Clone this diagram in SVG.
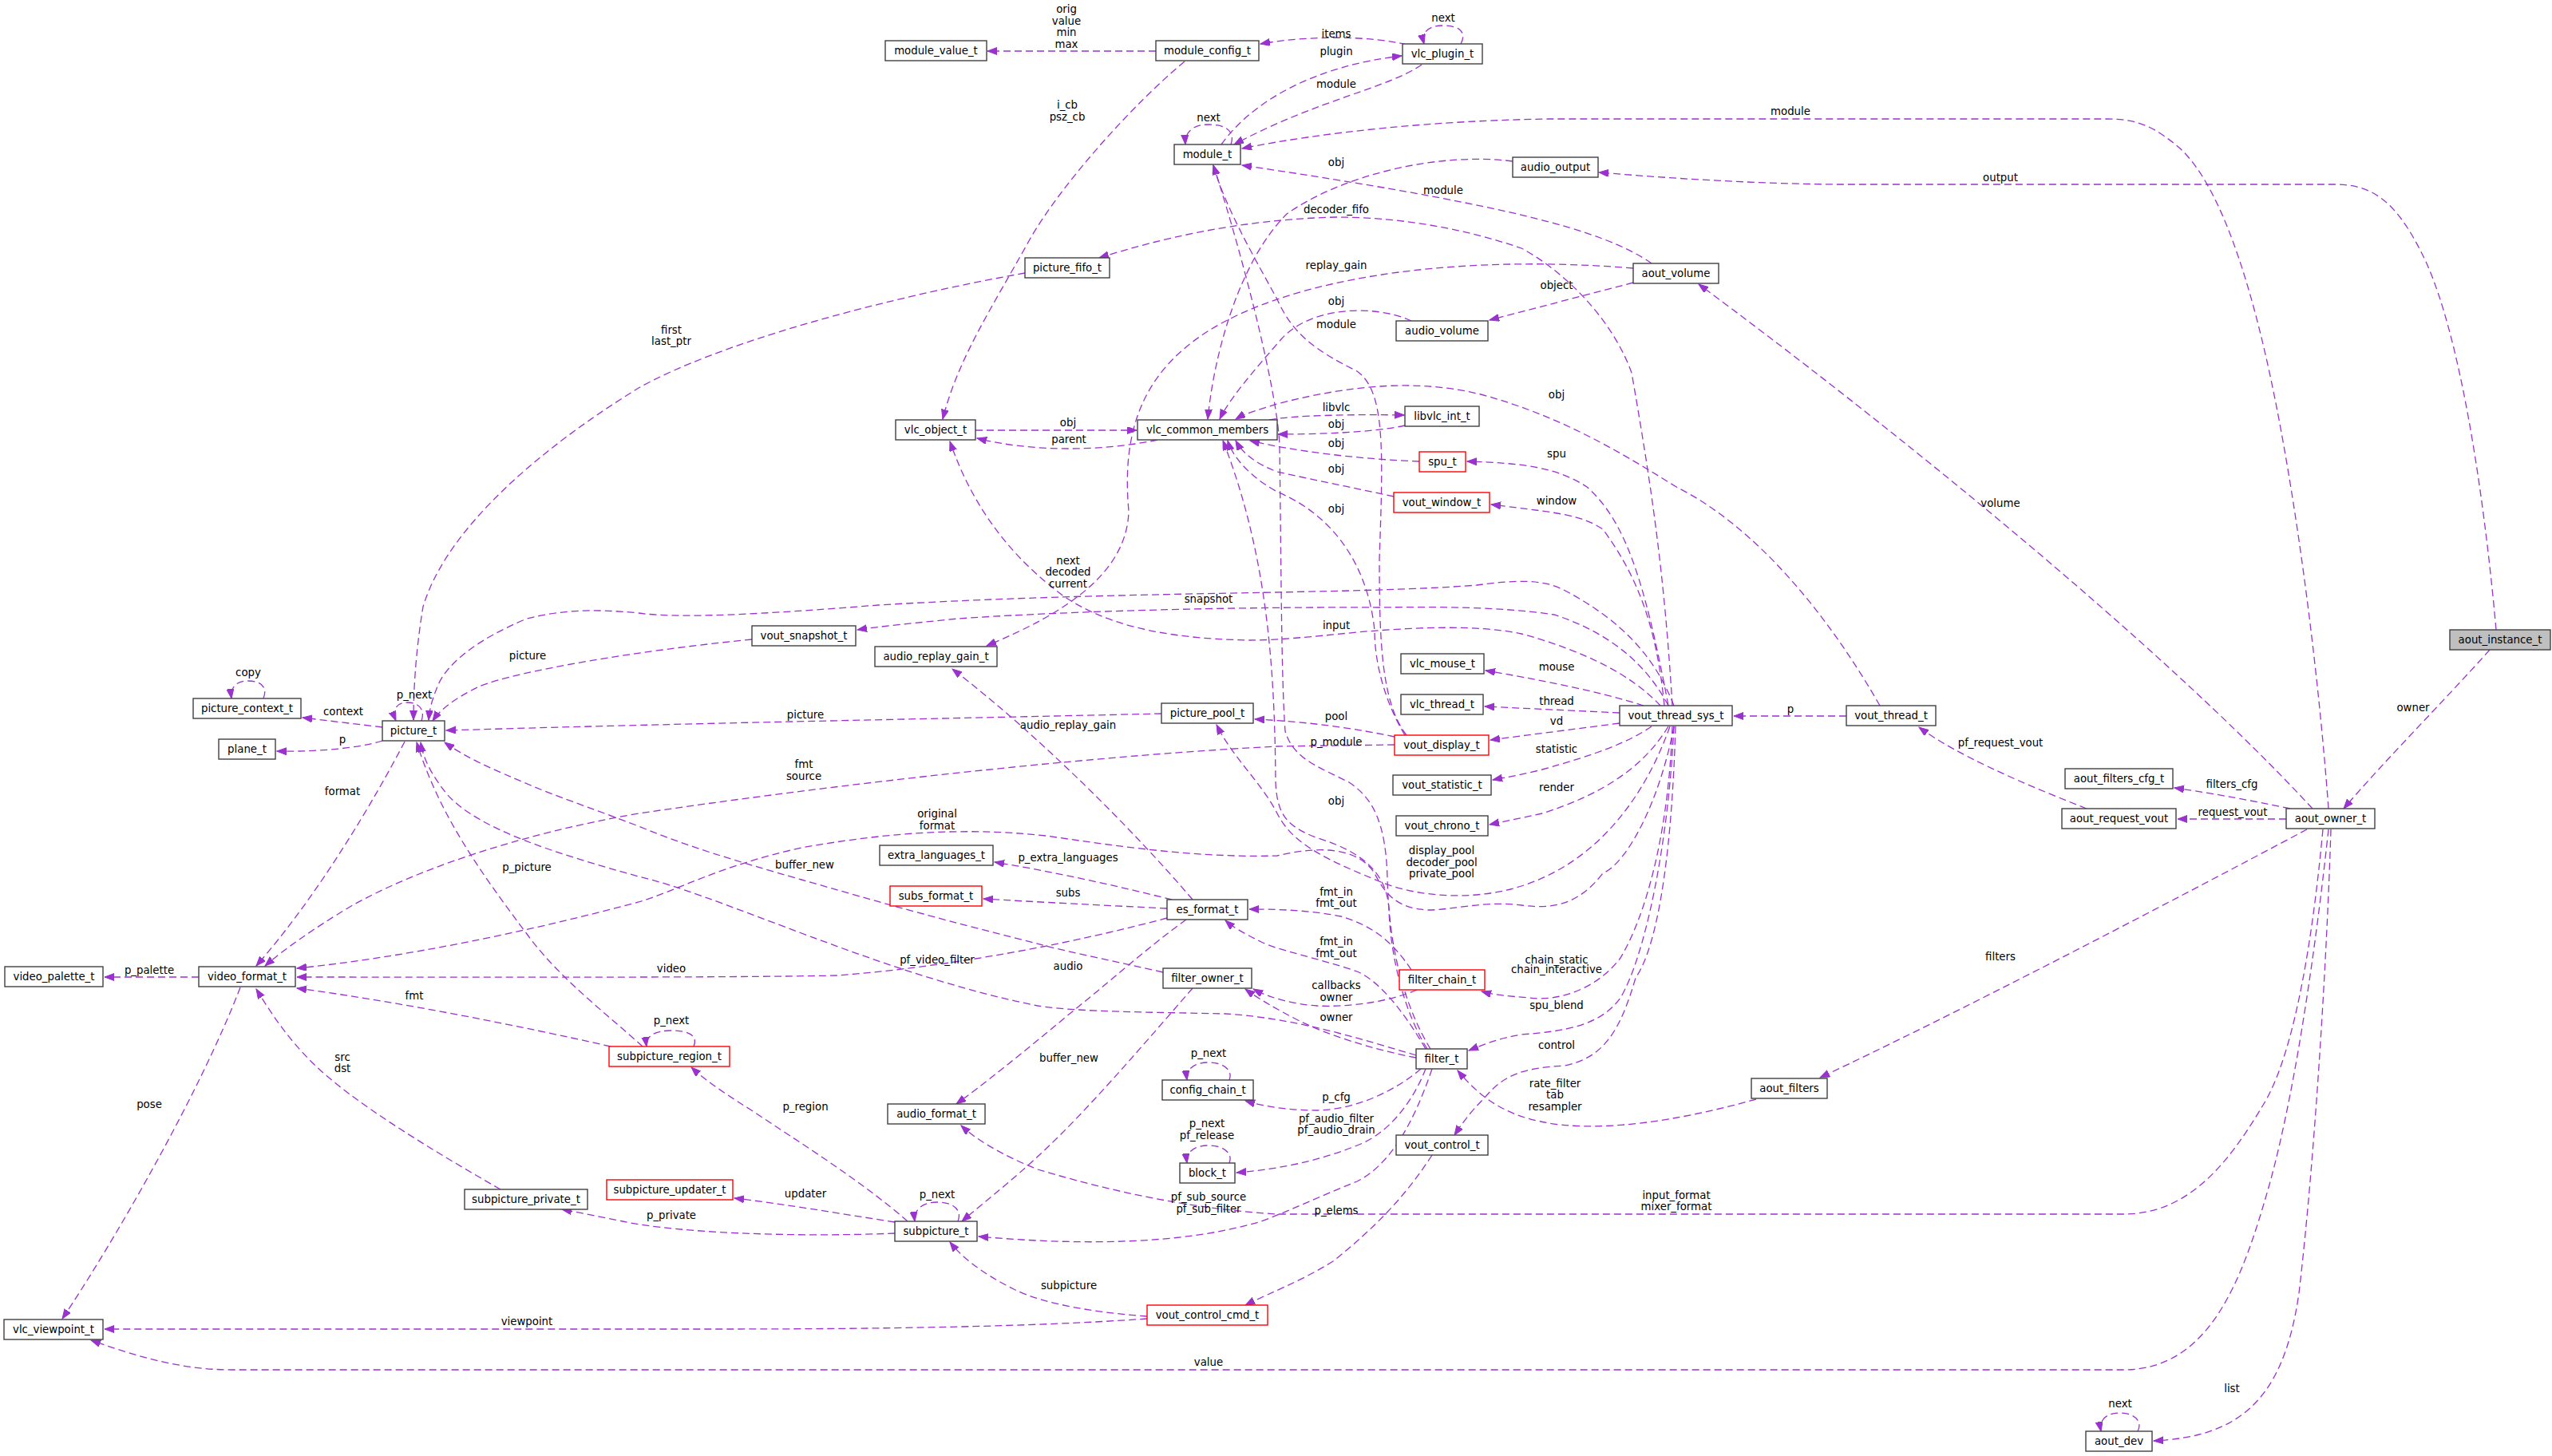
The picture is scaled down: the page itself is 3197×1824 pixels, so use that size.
<svg xmlns="http://www.w3.org/2000/svg" width="3197" height="1824" viewBox="0 0 3197 1824">
<defs>
<marker id="a" markerUnits="userSpaceOnUse" markerWidth="13" markerHeight="10" refX="12" refY="4.5" orient="auto"><path d="M0,0 L12,4.5 L0,9 z" fill="#9a32cd" stroke="#9a32cd" stroke-width="1"/></marker>
<style>
.bg{fill:#fff}
.n rect{fill:#fff;stroke:#404040;stroke-width:1.4}
.n.r rect{stroke:#ff0000}
.n.g rect{fill:#bfbfbf}
text{font-family:"DejaVu Sans","Liberation Sans",sans-serif;font-size:13.3px;fill:#000}
.n text{text-anchor:middle}
.l text{text-anchor:middle}
.e path{fill:none;stroke:#9a32cd;stroke-width:1.3;stroke-dasharray:9,5;marker-end:url(#a)}
</style>
</defs>
<rect class="bg" width="3197" height="1824"/>
<g id="edges" class="e">
<path d="M1448,64 L1237,64"/>
<path d="M1762,56 C1720,45 1640,44 1579,55"/>
<path d="M1830,55 C1838,40 1828,32 1808,32 C1790,32 1780,40 1784,55"/>
<path d="M1530,181 C1570,125 1650,82 1756,70"/>
<path d="M1781,81 C1740,110 1650,125 1546,181"/>
<path d="M1542,181 C1548,163 1534,156 1514,156 C1496,156 1484,164 1485,181"/>
<path d="M2917,1013 C2905,850 2880,650 2850,500 C2820,350 2780,230 2730,185 C2700,160 2680,149 2640,149 L1940,149 C1800,151 1660,165 1556,186"/>
<path d="M3127,789 C3110,600 3080,420 3040,330 C3005,255 2975,231 2925,231 L2300,231 C2200,230 2100,224 2003,216"/>
<path d="M3119,814 C3060,880 2990,950 2936,1013"/>
<path d="M2897,1013 C2700,800 2350,520 2128,356"/>
<path d="M2046,354 L1866,401"/>
<path d="M2069,330 C2010,288 1880,255 1556,207"/>
<path d="M2046,336 C1850,320 1650,340 1530,405 C1430,460 1405,540 1414,640 C1412,720 1330,770 1236,809"/>
<path d="M1895,202 C1800,190 1680,220 1612,268 C1550,330 1520,450 1513,525"/>
<path d="M1768,402 C1720,380 1640,385 1605,425 C1570,465 1540,500 1528,525"/>
<path d="M1762,921 C1730,880 1728,800 1728,700 C1733,560 1735,490 1700,465 C1650,440 1620,420 1600,375 C1570,320 1535,260 1520,207"/>
<path d="M1222,539 L1424,539"/>
<path d="M1450,551 C1380,566 1290,566 1224,549"/>
<path d="M1590,526 C1620,520 1700,519 1759,520"/>
<path d="M1760,533 C1720,542 1650,544 1601,544"/>
<path d="M1778,578 C1700,575 1620,565 1566,552"/>
<path d="M1746,622 C1700,612 1640,600 1600,591 C1570,580 1555,565 1548,552"/>
<path d="M1760,921 C1735,880 1722,830 1722,790 C1715,720 1680,650 1600,616 C1570,600 1545,575 1538,552"/>
<path d="M1747,923 C1700,913 1640,904 1572,901"/>
<path d="M1747,933 L1600,935 C1400,945 1100,975 800,1019 C650,1045 520,1090 440,1135 C390,1165 355,1190 332,1210"/>
<path d="M1792,1314 C1765,1270 1740,1200 1738,1100 C1736,1030 1720,1000 1690,980 C1650,960 1620,950 1610,916 C1605,850 1605,700 1603,560 C1602,500 1560,330 1520,207"/>
<path d="M1788,1314 C1760,1270 1742,1200 1740,1140 C1738,1090 1700,1065 1651,1050 C1610,1035 1600,1019 1598,980 C1597,850 1590,700 1532,552"/>
<path d="M1484,77 C1420,130 1330,230 1290,300 C1240,390 1200,450 1181,525"/>
<path d="M1284,342 C1100,375 900,430 800,486 C680,560 560,660 530,760 C520,820 518,870 518,902"/>
<path d="M528,903 C533,888 524,880 510,880 C498,880 490,888 496,903"/>
<path d="M942,801 C800,815 650,840 600,860 C570,875 552,888 542,903"/>
<path d="M2097,884 C2074,825 2034,778 1957,738 C1930,725 1896,727 1850,733 C1700,745 1400,740 1100,758 C950,770 850,775 800,768 C740,762 700,765 660,775 C600,800 560,830 548,860 C540,880 538,890 537,902"/>
<path d="M1455,894 C1200,900 900,905 559,915"/>
<path d="M479,911 L379,899"/>
<path d="M479,928 C450,937 400,942 347,941"/>
<path d="M507,929 C470,1000 400,1120 321,1210"/>
<path d="M330,875 C336,860 326,853 311,853 C297,853 288,860 290,875"/>
<path d="M1457,1218 C1400,1205 1350,1195 1310,1185 C1260,1172 1200,1157 1157,1145 C1100,1130 1050,1115 1004,1102 C920,1078 860,1060 800,1035 C740,1012 690,995 663,983 C620,965 585,950 557,930"/>
<path d="M1774,1322 C1700,1300 1620,1275 1535,1270 C1450,1268 1350,1268 1300,1260 C1200,1240 1100,1205 1004,1169 C900,1130 850,1110 800,1098 C700,1070 600,1040 560,995 C540,970 530,950 527,930"/>
<path d="M805,1311 C760,1270 700,1225 660,1170 C600,1090 550,1020 522,930"/>
<path d="M869,1311 C875,1297 862,1291 841,1291 C822,1291 808,1297 810,1311"/>
<path d="M765,1311 C650,1285 500,1255 372,1238"/>
<path d="M249,1224 L131,1224"/>
<path d="M301,1237 C250,1370 140,1560 78,1652"/>
<path d="M627,1490 C540,1440 440,1380 390,1330 C360,1300 340,1270 321,1239"/>
<path d="M1437,1652 C1300,1662 1100,1665 900,1665 L131,1665"/>
<path d="M2917,1039 C2905,1150 2880,1350 2843,1484 C2810,1600 2770,1716 2660,1716 L290,1716 C220,1716 160,1695 114,1679"/>
<path d="M2910,1039 C2895,1200 2870,1330 2834,1386 C2790,1460 2740,1521 2660,1521 L1600,1521 C1500,1515 1400,1495 1300,1465 C1250,1445 1220,1425 1204,1410"/>
<path d="M2920,1039 C2915,1200 2900,1450 2880,1620 C2860,1760 2800,1800 2698,1805"/>
<path d="M2678,1793 C2685,1779 2672,1770 2655,1770 C2640,1770 2629,1778 2632,1793"/>
<path d="M2890,1039 C2700,1140 2450,1270 2280,1350"/>
<path d="M2869,1013 C2820,1003 2780,995 2724,987"/>
<path d="M2864,1026 L2728,1026"/>
<path d="M2614,1013 C2530,980 2450,945 2404,911"/>
<path d="M2313,897 L2172,897"/>
<path d="M2355,884 C2290,770 2200,660 2100,610 C2020,560 1950,520 1855,494 C1780,476 1700,480 1600,506 C1580,512 1560,518 1548,525"/>
<path d="M2080,884 C2044,845 1983,815 1906,794 C1850,782 1770,786 1700,792 C1640,798 1600,802 1565,802 C1450,800 1380,780 1330,745 C1270,700 1220,640 1190,553"/>
<path d="M2090,884 C2059,825 2008,790 1947,770 C1880,760 1800,760 1727,761 C1500,760 1300,768 1200,775 C1150,780 1100,785 1074,789"/>
<path d="M2095,884 C2085,719 2069,610 2044,467 C2020,400 1960,340 1906,311 C1830,285 1750,272 1674,272 C1550,275 1450,300 1377,323"/>
<path d="M2090,884 C2059,719 2034,651 1988,610 C1950,585 1906,580 1838,578"/>
<path d="M2085,884 C2075,780 2049,719 2008,663 C1980,645 1957,643 1868,632"/>
<path d="M2059,884 C2000,865 1920,850 1861,840"/>
<path d="M2029,893 L1860,885"/>
<path d="M2029,906 C1960,915 1920,920 1867,927"/>
<path d="M2069,910 C2040,930 2000,945 1932,964 C1900,972 1880,975 1870,977"/>
<path d="M2090,910 C2060,960 2008,995 1932,1019 C1900,1026 1880,1030 1866,1033"/>
<path d="M2092,910 C2060,1000 2000,1080 1906,1110 C1850,1128 1780,1125 1730,1105 C1670,1080 1620,1060 1600,1019 C1580,980 1545,950 1524,908"/>
<path d="M2097,910 C2080,1000 2040,1080 2008,1094 C1980,1130 1950,1140 1906,1134 C1860,1128 1820,1140 1789,1140 C1750,1138 1735,1120 1722,1094 C1700,1060 1650,1060 1600,1072 C1500,1075 1400,1060 1310,1047 C1200,1035 1100,1045 1004,1062 C900,1085 850,1115 800,1130 C650,1170 500,1200 372,1213"/>
<path d="M2095,910 C2090,1050 2060,1150 2030,1200 C2000,1240 1950,1255 1916,1250 C1890,1248 1870,1246 1856,1242"/>
<path d="M2097,910 C2090,1060 2060,1200 2030,1250 C2005,1285 1960,1292 1906,1296 C1880,1300 1860,1308 1840,1316"/>
<path d="M2099,910 C2095,1050 2080,1180 2049,1225 C2030,1290 2010,1325 1960,1335 C1910,1338 1885,1345 1860,1375 C1840,1395 1830,1410 1822,1422"/>
<path d="M1794,1447 C1760,1500 1720,1540 1670,1580 C1630,1605 1590,1620 1560,1635"/>
<path d="M1437,1649 C1380,1645 1310,1635 1270,1615 C1230,1595 1205,1575 1190,1556"/>
<path d="M1137,1530 C1080,1480 1000,1430 940,1390 C900,1365 880,1350 866,1337"/>
<path d="M1121,1531 C1050,1520 980,1508 920,1501"/>
<path d="M1121,1545 C1000,1550 850,1545 780,1530 C740,1522 720,1518 704,1515"/>
<path d="M1200,1530 C1206,1514 1192,1506 1174,1506 C1158,1506 1144,1514 1146,1530"/>
<path d="M1494,1238 C1440,1300 1380,1370 1330,1420 C1280,1470 1240,1500 1205,1530"/>
<path d="M1486,1152 C1440,1185 1390,1230 1340,1270 C1280,1320 1230,1360 1198,1383"/>
<path d="M1462,1150 C1350,1180 1200,1210 1050,1222 C900,1225 600,1224 372,1224"/>
<path d="M1462,1138 C1380,1134 1300,1130 1232,1126"/>
<path d="M1468,1127 C1400,1110 1320,1092 1246,1080"/>
<path d="M1494,1127 C1420,1040 1300,920 1193,838"/>
<path d="M1786,1314 C1760,1270 1730,1230 1700,1217 C1650,1200 1600,1190 1580,1180 C1560,1170 1545,1162 1535,1153"/>
<path d="M1768,1215 C1745,1180 1720,1160 1680,1148 C1640,1140 1600,1139 1565,1139"/>
<path d="M1775,1240 C1740,1255 1690,1262 1650,1260 C1620,1258 1590,1250 1570,1239"/>
<path d="M1774,1325 C1720,1315 1660,1295 1630,1280 C1600,1265 1575,1250 1560,1239"/>
<path d="M1780,1339 C1750,1365 1700,1390 1650,1391 C1610,1391 1580,1385 1560,1379"/>
<path d="M1540,1353 C1545,1340 1532,1331 1514,1331 C1498,1331 1485,1338 1487,1353"/>
<path d="M1786,1339 C1770,1380 1740,1420 1700,1435 C1650,1455 1600,1465 1549,1469"/>
<path d="M1540,1457 C1545,1444 1532,1435 1514,1435 C1498,1435 1485,1442 1487,1457"/>
<path d="M1794,1339 C1770,1410 1740,1460 1700,1480 C1650,1500 1620,1515 1580,1530 C1480,1560 1350,1560 1226,1549"/>
<path d="M2200,1377 C2100,1405 2000,1420 1930,1405 C1880,1395 1850,1370 1826,1341"/>
</g>
<g id="edge-labels" class="l">
<text x="1336" y="16">orig</text><text x="1336" y="31">value</text><text x="1336" y="45">min</text><text x="1336" y="60">max</text>
<text x="1674" y="47">items</text>
<text x="1808" y="27">next</text>
<text x="1674" y="69">plugin</text>
<text x="1674" y="110">module</text>
<text x="1514" y="152">next</text>
<text x="2243" y="144">module</text>
<text x="2506" y="227">output</text>
<text x="3023" y="891">owner</text>
<text x="2506" y="635">volume</text>
<text x="1950" y="362">object</text>
<text x="1808" y="243">module</text>
<text x="1674" y="337">replay_gain</text>
<text x="1674" y="208">obj</text>
<text x="1674" y="382">obj</text>
<text x="1674" y="411">module</text>
<text x="1338" y="534">obj</text>
<text x="1339" y="555">parent</text>
<text x="1674" y="515">libvlc</text>
<text x="1674" y="536">obj</text>
<text x="1674" y="560">obj</text>
<text x="1674" y="592">obj</text>
<text x="1674" y="642">obj</text>
<text x="1674" y="902">pool</text>
<text x="1007" y="962">fmt</text><text x="1007" y="977">source</text>
<text x="1674" y="934">p_module</text>
<text x="1674" y="1008">obj</text>
<text x="1337" y="136">i_cb</text><text x="1337" y="151">psz_cb</text>
<text x="841" y="418">first</text><text x="841" y="432">last_ptr</text>
<text x="519" y="875">p_next</text>
<text x="661" y="826">picture</text>
<text x="1338" y="707">next</text><text x="1338" y="721">decoded</text><text x="1338" y="736">current</text>
<text x="1009" y="900">picture</text>
<text x="430" y="896">context</text>
<text x="429" y="931">p</text>
<text x="429" y="996">format</text>
<text x="311" y="847">copy</text>
<text x="1008" y="1088">buffer_new</text>
<text x="1174" y="1207">pf_video_filter</text>
<text x="660" y="1091">p_picture</text>
<text x="841" y="1283">p_next</text>
<text x="519" y="1252">fmt</text>
<text x="187" y="1220">p_palette</text>
<text x="187" y="1388">pose</text>
<text x="429" y="1329">src</text><text x="429" y="1343">dst</text>
<text x="660" y="1660">viewpoint</text>
<text x="1514" y="1711">value</text>
<text x="2100" y="1502">input_format</text><text x="2100" y="1516">mixer_format</text>
<text x="2796" y="1744">list</text>
<text x="2656" y="1763">next</text>
<text x="2506" y="1203">filters</text>
<text x="2796" y="987">filters_cfg</text>
<text x="2797" y="1022">request_vout</text>
<text x="2506" y="935">pf_request_vout</text>
<text x="2243" y="893">p</text>
<text x="1950" y="499">obj</text>
<text x="1674" y="788">input</text>
<text x="1514" y="755">snapshot</text>
<text x="1674" y="267">decoder_fifo</text>
<text x="1950" y="573">spu</text>
<text x="1950" y="632">window</text>
<text x="1950" y="840">mouse</text>
<text x="1950" y="883">thread</text>
<text x="1950" y="908">vd</text>
<text x="1950" y="943">statistic</text>
<text x="1950" y="991">render</text>
<text x="1806" y="1070">display_pool</text><text x="1806" y="1085">decoder_pool</text><text x="1806" y="1099">private_pool</text>
<text x="1174" y="1024">original</text><text x="1174" y="1039">format</text>
<text x="1950" y="1207">chain_static</text><text x="1950" y="1219">chain_interactive</text>
<text x="1950" y="1264">spu_blend</text>
<text x="1950" y="1314">control</text>
<text x="1674" y="1521">p_elems</text>
<text x="1339" y="1615">subpicture</text>
<text x="1009" y="1391">p_region</text>
<text x="1009" y="1500">updater</text>
<text x="841" y="1527">p_private</text>
<text x="1174" y="1501">p_next</text>
<text x="1339" y="1330">buffer_new</text>
<text x="1338" y="1215">audio</text>
<text x="841" y="1218">video</text>
<text x="1338" y="1123">subs</text>
<text x="1338" y="1079">p_extra_languages</text>
<text x="1338" y="913">audio_replay_gain</text>
<text x="1674" y="1184">fmt_in</text><text x="1674" y="1199">fmt_out</text>
<text x="1674" y="1122">fmt_in</text><text x="1674" y="1136">fmt_out</text>
<text x="1674" y="1239">callbacks</text><text x="1674" y="1254">owner</text>
<text x="1674" y="1279">owner</text>
<text x="1674" y="1379">p_cfg</text>
<text x="1514" y="1324">p_next</text>
<text x="1674" y="1406">pf_audio_filter</text><text x="1674" y="1420">pf_audio_drain</text>
<text x="1512" y="1412">p_next</text><text x="1512" y="1427">pf_release</text>
<text x="1514" y="1504">pf_sub_source</text><text x="1514" y="1519">pf_sub_filter</text>
<text x="1948" y="1362">rate_filter</text><text x="1948" y="1376">tab</text><text x="1948" y="1391">resampler</text>
</g>
<g id="node-module_value_t" class="n"><rect x="1109" y="51" width="127" height="25"/><text x="1172.5" y="68">module_value_t</text></g>
<g id="node-module_config_t" class="n"><rect x="1448" y="51" width="129" height="25"/><text x="1512.5" y="68">module_config_t</text></g>
<g id="node-vlc_plugin_t" class="n"><rect x="1757" y="55" width="100" height="25"/><text x="1807" y="72">vlc_plugin_t</text></g>
<g id="node-module_t" class="n"><rect x="1471" y="181" width="83" height="25"/><text x="1512.5" y="198">module_t</text></g>
<g id="node-audio_output" class="n"><rect x="1895" y="197" width="107" height="25"/><text x="1948.5" y="214">audio_output</text></g>
<g id="node-picture_fifo_t" class="n"><rect x="1284" y="323" width="106" height="25"/><text x="1337" y="340">picture_fifo_t</text></g>
<g id="node-aout_volume" class="n"><rect x="2046" y="330" width="107" height="25"/><text x="2099.5" y="347">aout_volume</text></g>
<g id="node-audio_volume" class="n"><rect x="1749" y="402" width="115" height="25"/><text x="1806.5" y="419">audio_volume</text></g>
<g id="node-vlc_object_t" class="n"><rect x="1122" y="526" width="100" height="25"/><text x="1172" y="543">vlc_object_t</text></g>
<g id="node-vlc_common_members" class="n"><rect x="1425" y="526" width="175" height="25"/><text x="1512.5" y="543">vlc_common_members</text></g>
<g id="node-libvlc_int_t" class="n"><rect x="1760" y="509" width="93" height="25"/><text x="1806.5" y="526">libvlc_int_t</text></g>
<g id="node-spu_t" class="n r"><rect x="1778" y="566" width="58" height="25"/><text x="1807" y="583">spu_t</text></g>
<g id="node-vout_window_t" class="n r"><rect x="1746" y="617" width="120" height="25"/><text x="1806" y="634">vout_window_t</text></g>
<g id="node-vout_snapshot_t" class="n"><rect x="942" y="784" width="130" height="25"/><text x="1007" y="801">vout_snapshot_t</text></g>
<g id="node-audio_replay_gain_t" class="n"><rect x="1096" y="810" width="153" height="25"/><text x="1172.5" y="827">audio_replay_gain_t</text></g>
<g id="node-aout_instance_t" class="n g"><rect x="3069" y="789" width="126" height="25"/><text x="3132" y="806">aout_instance_t</text></g>
<g id="node-vlc_mouse_t" class="n"><rect x="1755" y="819" width="104" height="25"/><text x="1807" y="836">vlc_mouse_t</text></g>
<g id="node-picture_context_t" class="n"><rect x="242" y="875" width="135" height="25"/><text x="309.5" y="892">picture_context_t</text></g>
<g id="node-vlc_thread_t" class="n"><rect x="1755" y="870" width="103" height="25"/><text x="1806.5" y="887">vlc_thread_t</text></g>
<g id="node-picture_pool_t" class="n"><rect x="1455" y="881" width="115" height="25"/><text x="1512.5" y="898">picture_pool_t</text></g>
<g id="node-vout_thread_sys_t" class="n"><rect x="2029" y="884" width="141" height="25"/><text x="2099.5" y="901">vout_thread_sys_t</text></g>
<g id="node-vout_thread_t" class="n"><rect x="2313" y="884" width="112" height="25"/><text x="2369" y="901">vout_thread_t</text></g>
<g id="node-picture_t" class="n"><rect x="479" y="903" width="78" height="25"/><text x="518" y="920">picture_t</text></g>
<g id="node-vout_display_t" class="n r"><rect x="1747" y="921" width="118" height="25"/><text x="1806" y="938">vout_display_t</text></g>
<g id="node-plane_t" class="n"><rect x="274" y="926" width="71" height="25"/><text x="309.5" y="943">plane_t</text></g>
<g id="node-aout_filters_cfg_t" class="n"><rect x="2587" y="963" width="135" height="25"/><text x="2654.5" y="980">aout_filters_cfg_t</text></g>
<g id="node-vout_statistic_t" class="n"><rect x="1745" y="971" width="123" height="25"/><text x="1806.5" y="988">vout_statistic_t</text></g>
<g id="node-aout_request_vout" class="n"><rect x="2583" y="1013" width="143" height="25"/><text x="2654.5" y="1030">aout_request_vout</text></g>
<g id="node-aout_owner_t" class="n"><rect x="2864" y="1013" width="111" height="25"/><text x="2919.5" y="1030">aout_owner_t</text></g>
<g id="node-vout_chrono_t" class="n"><rect x="1749" y="1022" width="115" height="25"/><text x="1806.5" y="1039">vout_chrono_t</text></g>
<g id="node-extra_languages_t" class="n"><rect x="1102" y="1059" width="142" height="25"/><text x="1173" y="1076">extra_languages_t</text></g>
<g id="node-subs_format_t" class="n r"><rect x="1115" y="1110" width="115" height="25"/><text x="1172.5" y="1127">subs_format_t</text></g>
<g id="node-es_format_t" class="n"><rect x="1462" y="1127" width="101" height="25"/><text x="1512.5" y="1144">es_format_t</text></g>
<g id="node-video_palette_t" class="n"><rect x="6" y="1211" width="123" height="25"/><text x="67.5" y="1228">video_palette_t</text></g>
<g id="node-video_format_t" class="n"><rect x="249" y="1211" width="121" height="25"/><text x="309.5" y="1228">video_format_t</text></g>
<g id="node-filter_owner_t" class="n"><rect x="1457" y="1213" width="111" height="25"/><text x="1512.5" y="1230">filter_owner_t</text></g>
<g id="node-filter_chain_t" class="n r"><rect x="1753" y="1215" width="107" height="25"/><text x="1806.5" y="1232">filter_chain_t</text></g>
<g id="node-subpicture_region_t" class="n r"><rect x="763" y="1311" width="151" height="25"/><text x="838.5" y="1328">subpicture_region_t</text></g>
<g id="node-filter_t" class="n"><rect x="1774" y="1314" width="64" height="25"/><text x="1806" y="1331">filter_t</text></g>
<g id="node-config_chain_t" class="n"><rect x="1456" y="1353" width="114" height="25"/><text x="1513" y="1370">config_chain_t</text></g>
<g id="node-aout_filters" class="n"><rect x="2194" y="1351" width="95" height="25"/><text x="2241.5" y="1368">aout_filters</text></g>
<g id="node-audio_format_t" class="n"><rect x="1112" y="1383" width="122" height="25"/><text x="1173" y="1400">audio_format_t</text></g>
<g id="node-vout_control_t" class="n"><rect x="1749" y="1422" width="115" height="25"/><text x="1806.5" y="1439">vout_control_t</text></g>
<g id="node-block_t" class="n"><rect x="1478" y="1457" width="69" height="25"/><text x="1512.5" y="1474">block_t</text></g>
<g id="node-subpicture_updater_t" class="n r"><rect x="760" y="1478" width="158" height="25"/><text x="839" y="1495">subpicture_updater_t</text></g>
<g id="node-subpicture_private_t" class="n"><rect x="582" y="1490" width="154" height="25"/><text x="659" y="1507">subpicture_private_t</text></g>
<g id="node-subpicture_t" class="n"><rect x="1121" y="1530" width="103" height="25"/><text x="1172.5" y="1547">subpicture_t</text></g>
<g id="node-vout_control_cmd_t" class="n r"><rect x="1437" y="1635" width="151" height="25"/><text x="1512.5" y="1652">vout_control_cmd_t</text></g>
<g id="node-vlc_viewpoint_t" class="n"><rect x="5" y="1653" width="124" height="25"/><text x="67" y="1670">vlc_viewpoint_t</text></g>
<g id="node-aout_dev" class="n"><rect x="2613" y="1793" width="83" height="25"/><text x="2654.5" y="1810">aout_dev</text></g>
</svg>
